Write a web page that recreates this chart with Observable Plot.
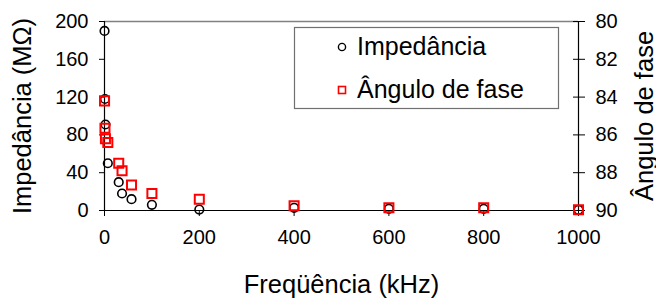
<!DOCTYPE html>
<html>
<head>
<meta charset="utf-8">
<script src="https://cdn.jsdelivr.net/npm/d3@7"></script>
<script src="https://cdn.jsdelivr.net/npm/@observablehq/plot@0.6"></script>
<style>
  html, body { margin: 0; padding: 0; background: #fff; }
  #wrap { position: relative; width: 656px; height: 300px; font-family: "Liberation Sans", Arial, sans-serif; }
  #legend { position: absolute; left: 0; top: 0; }
</style>
</head>
<body>
<div id="wrap"></div>
<script>
// Data
const frequency = [0.1, 1, 2, 7, 30, 37, 57, 100, 200, 400, 600, 800, 1000]; // kHz
const impedance = [190, 118, 91, 50, 30, 18, 12, 6, 1, 2.8, 1.8, 1.8, 0.7];   // MΩ
const phaseAngle = [84.2, 85.65, 86.2, 86.4, 87.5, 87.9, 88.65, 89.1, 89.4, 89.75, 89.86, 89.86, 89.96]; // degrees
const xTicks = [0, 200, 400, 600, 800, 1000];
const yTicks = [0, 40, 80, 120, 160, 200];
const angleTicks = [80, 82, 84, 86, 88, 90];

// secondary axis: 80° at top (200) to 90° at bottom (0)
const angleToY = a => (90 - a) * 20;
const yToAngle = v => String(Math.round(90 - v / 20));

const rows = frequency.map((f, i) => ({f, imp: impedance[i], ang: angleToY(phaseAngle[i])}));

const font = "Liberation Sans, Arial, sans-serif";

const chart = Plot.plot({
  width: 656,
  height: 300,
  marginLeft: 104,
  marginRight: 78,
  marginTop: 21,
  marginBottom: 90,
  style: {fontFamily: font, fontSize: "20px", color: "#000", background: "#fff"},
  x: {domain: [0, 1000]},
  y: {domain: [0, 200]},
  marks: [
    Plot.ruleY([200], {stroke: "#808080", strokeWidth: 1.5}),
    Plot.axisX({ticks: xTicks, tickFormat: d => String(d), tickSize: 6, tickPadding: 13, label: "Freqüência (kHz)", labelAnchor: "center", labelArrow: "none", labelOffset: 82}),
    Plot.axisY({ticks: yTicks, tickFormat: d => String(d), tickSize: 5, tickPadding: 11, label: "Impedância (MΩ)", labelAnchor: "center", labelArrow: "none", labelOffset: 92}),
    Plot.axisY({anchor: "right", ticks: angleTicks.map(angleToY), tickFormat: yToAngle, tickSize: 6, tickPadding: 11, label: "Ângulo de fase", labelAnchor: "center", labelArrow: "none", labelOffset: 74}),
    Plot.axisY({anchor: "right", ticks: angleTicks.map(angleToY), tickFormat: () => "", tickSize: -6, label: null}),
    Plot.ruleX([0], {stroke: "#000", strokeWidth: 1.2}),
    Plot.ruleX([1000], {stroke: "#000", strokeWidth: 1.2}),
    Plot.ruleY([0], {stroke: "#000", strokeWidth: 1.2}),
    Plot.dot(rows, {x: "f", y: "imp", r: 4.3, stroke: "#000", strokeWidth: 1.6, fill: "none"}),
    Plot.dot(rows, {x: "f", y: "ang", symbol: "square", r: 5.1, stroke: "#ff0000", strokeWidth: 2, fill: "none"})
  ]
});

// axis label font size larger than ticks
d3.select(chart).selectAll("g[aria-label='y-axis label'] text, g[aria-label='x-axis label'] text").style("font-size", "25.5px");

const wrap = document.getElementById("wrap");
wrap.appendChild(chart);

// Legend overlay
const lg = d3.select(wrap).append("svg").attr("id", "legend").attr("width", 656).attr("height", 300);
lg.append("rect").attr("x", 294.5).attr("y", 27.5).attr("width", 264).attr("height", 81).attr("fill", "#fff").attr("stroke", "#707070").attr("stroke-width", 1.2);
lg.append("circle").attr("cx", 342).attr("cy", 47).attr("r", 3.6).attr("fill", "none").attr("stroke", "#000").attr("stroke-width", 1.4);
lg.append("rect").attr("x", 338.5).attr("y", 86.5).attr("width", 7).attr("height", 7).attr("fill", "none").attr("stroke", "#ff0000").attr("stroke-width", 1.6);
lg.append("text").attr("x", 357).attr("y", 55).attr("font-family", font).attr("font-size", 25).text("Impedância");
lg.append("text").attr("x", 357).attr("y", 98).attr("font-family", font).attr("font-size", 25).text("Ângulo de fase");
</script>
</body>
</html>
